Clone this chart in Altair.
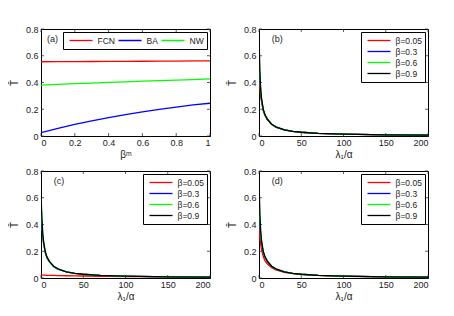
import altair as alt
import pandas as pd

# ---- panel (a) data ----
bm = [0, 0.1, 0.2, 0.3, 0.4, 0.5, 0.6, 0.7, 0.8, 0.9, 1.0]
fcn = [0.555, 0.556, 0.556, 0.557, 0.558, 0.558, 0.559, 0.560, 0.560, 0.561, 0.562]
ba = [0.025, 0.057, 0.087, 0.113, 0.137, 0.159, 0.180, 0.199, 0.216, 0.232, 0.245]
nw = [0.380, 0.386, 0.391, 0.396, 0.401, 0.405, 0.410, 0.414, 0.418, 0.422, 0.427]
names_a = ["FCN", "BA", "NW"]

# ---- panels (b)-(d) data ----
lam = [0, 1, 2, 3, 5, 7, 10, 15, 20, 30, 40, 50, 70, 100, 150, 200]
betas = ["β=0.05", "β=0.3", "β=0.6", "β=0.9"]

b_005 = [0.42, 0.36, 0.30, 0.26, 0.190, 0.155, 0.122, 0.087, 0.067, 0.046, 0.035, 0.028, 0.020, 0.014, 0.009, 0.007]
b_03 = [0.55, 0.42, 0.33, 0.27, 0.195, 0.157, 0.123, 0.087, 0.067, 0.046, 0.035, 0.028, 0.020, 0.014, 0.009, 0.007]
b_06 = [0.65, 0.46, 0.34, 0.275, 0.198, 0.158, 0.124, 0.088, 0.068, 0.046, 0.035, 0.028, 0.020, 0.014, 0.009, 0.007]
b_09 = [0.77, 0.48, 0.35, 0.28, 0.200, 0.160, 0.125, 0.088, 0.068, 0.046, 0.035, 0.028, 0.020, 0.014, 0.009, 0.007]

c_005 = [0.022, 0.022, 0.021, 0.021, 0.021, 0.020, 0.020, 0.019, 0.018, 0.017, 0.016, 0.015, 0.013, 0.011, 0.008, 0.006]
c_03 = [0.46, 0.38, 0.31, 0.26, 0.190, 0.152, 0.120, 0.085, 0.066, 0.045, 0.035, 0.028, 0.020, 0.014, 0.009, 0.007]
c_06 = [0.58, 0.44, 0.33, 0.27, 0.195, 0.157, 0.123, 0.087, 0.067, 0.046, 0.035, 0.028, 0.020, 0.014, 0.009, 0.007]
c_09 = [0.62, 0.46, 0.34, 0.275, 0.198, 0.158, 0.124, 0.088, 0.068, 0.046, 0.035, 0.028, 0.020, 0.014, 0.009, 0.007]

d_005 = [0.40, 0.30, 0.25, 0.21, 0.160, 0.130, 0.105, 0.077, 0.060, 0.042, 0.033, 0.027, 0.019, 0.013, 0.009, 0.007]
d_03 = [0.50, 0.40, 0.32, 0.265, 0.193, 0.155, 0.122, 0.087, 0.067, 0.046, 0.035, 0.028, 0.020, 0.014, 0.009, 0.007]
d_06 = [0.62, 0.45, 0.335, 0.272, 0.197, 0.158, 0.124, 0.088, 0.068, 0.046, 0.035, 0.028, 0.020, 0.014, 0.009, 0.007]
d_09 = [0.75, 0.48, 0.35, 0.28, 0.200, 0.160, 0.125, 0.088, 0.068, 0.046, 0.035, 0.028, 0.020, 0.014, 0.009, 0.007]

y_ticks = [0, 0.2, 0.4, 0.6, 0.8]
x_ticks_a = [0, 0.2, 0.4, 0.6, 0.8, 1]
x_ticks_l = [0, 50, 100, 150, 200]

colors = ["#ff0000", "#0000ff", "#00ff00", "#000000"]
colors_a = ["#ff0000", "#0000ff", "#00ff00"]

W, H = 169, 107
FONT = "Liberation Sans"
TK = 3  # inward tick length (px)


def make_df(xv, series, names):
    rows = []
    for i, (n, ys) in enumerate(zip(names, series)):
        for x, y in zip(xv, ys):
            rows.append({"x": x, "y": y, "s": n, "k": i})
    return pd.DataFrame(rows)


def panel(df, names, cols, label, lx, xtitle, xdom, xvals, direction):
    xenc = alt.X("x:Q", scale=alt.Scale(domain=xdom, nice=False),
                 axis=alt.Axis(values=xvals, format=".1~f", title=xtitle))
    yenc = alt.Y("y:Q", scale=alt.Scale(domain=[0, 0.8], nice=False),
                 axis=alt.Axis(values=y_ticks, format=".1~f", title="T̄"))
    leg = alt.Legend(title=None, orient="top-right", direction=direction,
                     offset=3, padding=3, strokeColor="#000", fillColor="#fff",
                     symbolType="stroke", symbolSize=529, symbolStrokeWidth=1.3,
                     symbolOffset=2.5, labelOffset=4, clipHeight=11,
                     labelFontSize=8.5, labelFont=FONT, labelColor="#222",
                     columnPadding=0, rowPadding=0, gridAlign="none")
    lines = alt.Chart(df).mark_line(strokeWidth=1.3, clip=True).encode(
        x=xenc, y=yenc,
        color=alt.Color("s:N", scale=alt.Scale(domain=names, range=cols), legend=leg),
        detail="k:O",
    )
    tdf = pd.DataFrame({"x": [lx], "y": [0.725], "t": [label]})
    txt = alt.Chart(tdf).mark_text(align="left", baseline="middle", fontSize=9,
                                   font=FONT, color="#222").encode(x=xenc, y=yenc, text="t:N")
    ydf = pd.DataFrame({"y": y_ticks})
    xdf = pd.DataFrame({"x": xvals})
    tk = dict(color="#333", strokeWidth=0.8)
    yl = alt.Chart(ydf).mark_rule(**tk).encode(y=yenc, x=alt.value(0), x2=alt.value(TK))
    yr = alt.Chart(ydf).mark_rule(**tk).encode(y=yenc, x=alt.value(W - TK), x2=alt.value(W))
    xb = alt.Chart(xdf).mark_rule(**tk).encode(x=xenc, y=alt.value(H - TK), y2=alt.value(H))
    xt = alt.Chart(xdf).mark_rule(**tk).encode(x=xenc, y=alt.value(0), y2=alt.value(TK))
    return alt.layer(yl, yr, xb, xt, lines, txt).properties(width=W, height=H)


pa = panel(make_df(bm, [fcn, ba, nw], names_a), names_a, colors_a, "(a)", 0.035,
           "βᵐ", [0, 1], x_ticks_a, "horizontal")
pb = panel(make_df(lam, [b_005, b_03, b_06, b_09], betas), betas, colors, "(b)", 15,
           "λ₁/α", [0, 200], x_ticks_l, "vertical")
pc = panel(make_df(lam, [c_005, c_03, c_06, c_09], betas), betas, colors, "(c)", 15,
           "λ₁/α", [0, 200], x_ticks_l, "vertical")
pd_ = panel(make_df(lam, [d_005, d_03, d_06, d_09], betas), betas, colors, "(d)", 15,
            "λ₁/α", [0, 200], x_ticks_l, "vertical")

top = alt.hconcat(pa, pb, spacing=15).resolve_scale(color="independent").resolve_legend(color="independent")
bot = alt.hconcat(pc, pd_, spacing=15).resolve_scale(color="independent").resolve_legend(color="independent")
chart = alt.vconcat(top, bot, spacing=6).resolve_scale(color="independent").resolve_legend(color="independent")

chart = chart.properties(padding={"left": 0, "top": 16, "right": 5, "bottom": 5}).configure(
    font=FONT
).configure_view(stroke="#000", strokeWidth=1).configure_axis(
    grid=False, ticks=False, labelPadding=3, domainColor="#000", domainWidth=1,
    labelFont=FONT, labelFontSize=9, labelColor="#222",
    titleFont=FONT, titleFontSize=10, titleColor="#222", titleFontWeight="normal",
    titlePadding=2,
).configure_axisX(labelPadding=2).configure_axisY(titlePadding=6)

chart.save("out.html", embed_options={"renderer": "svg", "actions": False})
